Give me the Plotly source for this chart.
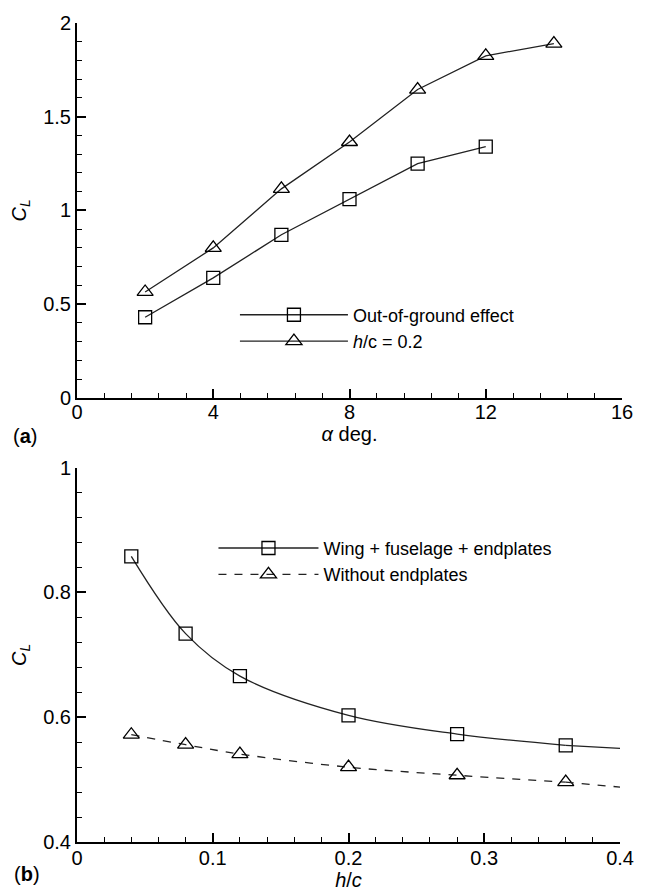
import plotly.graph_objects as go

# ---- data: panel (a) ----
alpha_oge = [2, 4, 6, 8, 10, 12]
cl_oge = [0.43, 0.64, 0.87, 1.06, 1.25, 1.34]
alpha_h02 = [2, 4, 6, 8, 10, 12, 14]
cl_h02 = [0.565, 0.80, 1.115, 1.365, 1.645, 1.825, 1.89]

# ---- data: panel (b) ----
hc = [0.04, 0.08, 0.12, 0.20, 0.28, 0.36]
cl_wfe = [0.858, 0.734, 0.666, 0.603, 0.573, 0.555]
cl_noep = [0.572, 0.556, 0.541, 0.520, 0.507, 0.496]
hc_ext = [0.36, 0.40]
cl_wfe_ext = [0.555, 0.550]
cl_noep_ext = [0.496, 0.488]

FONT = "Liberation Sans, Arial, sans-serif"
LC = "#222"

fig = go.Figure()

mk_sq = dict(symbol="square-open", size=13, color="black", line=dict(width=1.3, color="black"))
mk_tr = dict(symbol="triangle-up-open", size=14, color="black", line=dict(width=1.3, color="black"))

fig.add_trace(go.Scatter(x=alpha_oge, y=cl_oge, mode="lines+markers", name="Out-of-ground effect",
                         line=dict(color=LC, width=1.3), marker=mk_sq, xaxis="x", yaxis="y", legend="legend"))
fig.add_trace(go.Scatter(x=alpha_h02, y=cl_h02, mode="lines+markers", name="<i>h</i>/c = 0.2",
                         line=dict(color=LC, width=1.3), marker=mk_tr, xaxis="x", yaxis="y", legend="legend"))

fig.add_trace(go.Scatter(x=hc, y=cl_wfe, mode="lines+markers", name="Wing + fuselage + endplates",
                         line=dict(color=LC, width=1.3, shape="spline"), marker=mk_sq,
                         xaxis="x2", yaxis="y2", legend="legend2"))
fig.add_trace(go.Scatter(x=hc_ext, y=cl_wfe_ext, mode="lines", showlegend=False,
                         line=dict(color=LC, width=1.3), xaxis="x2", yaxis="y2"))
fig.add_trace(go.Scatter(x=hc, y=cl_noep, mode="lines+markers", name="Without endplates",
                         line=dict(color=LC, width=1.3, dash="8px,8px", shape="spline"), marker=mk_tr,
                         xaxis="x2", yaxis="y2", legend="legend2"))
fig.add_trace(go.Scatter(x=hc_ext, y=cl_noep_ext, mode="lines", showlegend=False,
                         line=dict(color=LC, width=1.3, dash="8px,8px"), xaxis="x2", yaxis="y2"))

ax_common = dict(showline=True, linecolor="black", linewidth=2, showgrid=False, zeroline=False,
                 ticks="inside", ticklen=9, tickwidth=1.5, tickcolor="black",
                 tickfont=dict(family=FONT, size=20, color="black"), mirror=False)
minor_common = dict(ticks="inside", ticklen=5, tickwidth=1, tickcolor="black")
title_font = dict(family=FONT, size=20, color="black")

fig.update_layout(
    width=648, height=895,
    margin=dict(l=77, r=12, t=17, b=45),
    plot_bgcolor="white", paper_bgcolor="white",
    font=dict(family=FONT, size=18, color="black"),
    xaxis=dict(**ax_common, domain=[0, 1], range=[0, 16], tickvals=[0, 4, 8, 12, 16],
               minor=dict(dtick=0.8, **minor_common), ticklabelstandoff=-5,
               title=dict(text="<i>α</i> deg.", font=title_font, standoff=0),
               anchor="y"),
    yaxis=dict(**ax_common, domain=[0.5423, 1], range=[0, 2], tickvals=[0, 0.5, 1, 1.5, 2],
               minor=dict(dtick=0.1, **minor_common),
               title=dict(text="<i>C</i><sub><i>L</i></sub>", font=title_font, standoff=11),
               anchor="x"),
    xaxis2=dict(**ax_common, domain=[0, 0.9964], range=[0, 0.4], tickvals=[0, 0.1, 0.2, 0.3, 0.4],
                minor=dict(dtick=0.02, **minor_common), ticklabelstandoff=-3,
                title=dict(text="<i>h</i>/<i>c</i>", font=title_font, standoff=0),
                anchor="y2"),
    yaxis2=dict(**ax_common, domain=[0, 0.457], range=[0.4, 1], tickvals=[0.4, 0.6, 0.8, 1],
                ticktext=["0.4", "0.6", "0.8", "1"],
                minor=dict(tick0=0.4, dtick=0.04, **minor_common),
                title=dict(text="<i>C</i><sub><i>L</i></sub>", font=title_font, standoff=11),
                anchor="x2"),
    legend=dict(x=0.2898, y=0.666, xanchor="left", yanchor="top", itemwidth=108,
                bgcolor="rgba(0,0,0,0)", font=dict(family=FONT, size=18)),
    legend2=dict(x=0.2504, y=0.3812, xanchor="left", yanchor="top", itemwidth=100,
                 bgcolor="rgba(0,0,0,0)", font=dict(family=FONT, size=18)),
    annotations=[
        dict(text="(<b>a</b>)", x=-0.0957, y=0.4958, xref="paper", yref="paper", xanchor="center",
             yanchor="middle", showarrow=False, font=dict(family=FONT, size=20)),
        dict(text="(<b>b</b>)", x=-0.0921, y=-0.0396, xref="paper", yref="paper", xanchor="center",
             yanchor="middle", showarrow=False, font=dict(family=FONT, size=20)),
    ],
)

fig.write_html("out.html", config={"displayModeBar": False},
               post_script="document.body.style.margin='0';")
